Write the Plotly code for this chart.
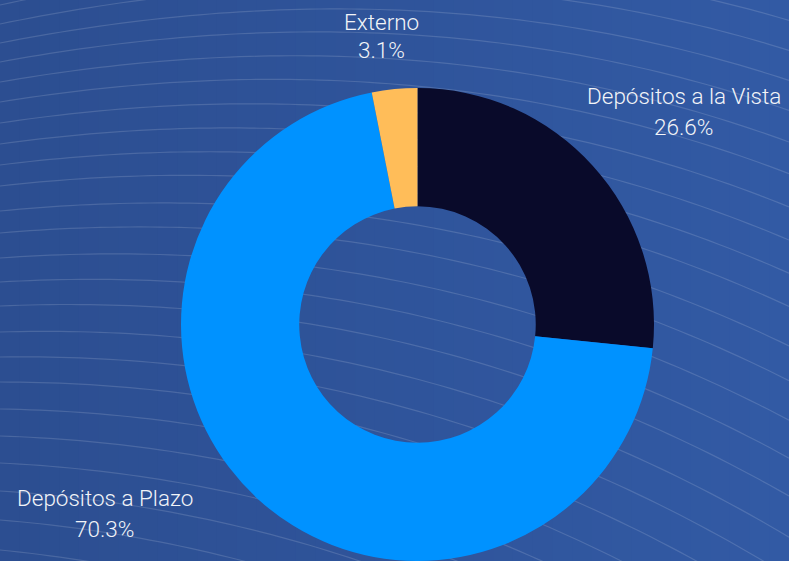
import numpy as np
import plotly.graph_objects as go

# ---- data ----
labels = ["Depósitos a la Vista", "Depósitos a Plazo", "Externo"]
values = [26.6, 70.3, 3.1]
colors = ["#090a2a", "#0092ff", "#ffbd59"]

W, H = 789, 561

def px(x):
    return x / W

def py(y):
    return 1 - y / H

shapes = []

# ---- background: horizontal gradient built from thin strips ----
c0 = np.array([44, 78, 145])
c1 = np.array([50, 90, 164])
n_strips = 40
for i in range(n_strips):
    t = i / (n_strips - 1)
    c = (c0 + (c1 - c0) * t).round().astype(int)
    shapes.append(dict(type="rect", xref="paper", yref="paper", layer="below",
                       x0=i / n_strips, x1=(i + 1) / n_strips + 0.002, y0=0, y1=1,
                       fillcolor=f"rgb({c[0]},{c[1]},{c[2]})", line=dict(width=0)))

# ---- background: faint decorative flowing lines ----
line_starts = [5, 24, 43, 62, 82, 102, 123, 144, 165, 186, 211, 233, 258, 282,
               306, 332, 357, 382, 409, 436, 463, 491, 520, 550]
g, k, off = 0.00058, 1.1034, 1521.7
xs = np.linspace(0, W, 80)
for y0 in line_starts:
    ys = (y0 + off) * np.exp(g * xs) - off - k * xs
    path = "M " + " L ".join(f"{px(x):.5f},{py(y):.5f}" for x, y in zip(xs, ys))
    shapes.append(dict(type="path", xref="paper", yref="paper", layer="below",
                       path=path, line=dict(color="rgba(255,255,255,0.14)", width=1.2)))

fig = go.Figure(go.Pie(
    labels=labels, values=values, sort=False, direction="clockwise", rotation=0,
    hole=0.5, marker=dict(colors=colors, line=dict(width=0)),
    textinfo="none", hoverinfo="label+percent", showlegend=False,
    domain=dict(x=[0.2294, 0.8289], y=[0, 1 - 88 / H]),
))

# ---- labels ----
total = sum(values)
pcts = [f"{v / total * 100:.1f}%" for v in values]
label_pos = [  # (x center, name y center, pct y center) in pixels
    (683.5, 96.3, 127.3),
    (104.5, 498.3, 529.0),
    (381.0, 22.3, 49.6),
]
font = dict(family="Roboto", size=22.5, color="#f2f4f8", weight=300)
annotations = []
for name, pct, (xc, yn, yp) in zip(labels, pcts, label_pos):
    annotations.append(dict(text=name, x=px(xc), y=py(yn), xref="paper", yref="paper",
                            xanchor="center", yanchor="middle", showarrow=False, font=font))
    annotations.append(dict(text=pct, x=px(xc), y=py(yp), xref="paper", yref="paper",
                            xanchor="center", yanchor="middle", showarrow=False, font=font))

fig.update_layout(
    width=W, height=H,
    margin=dict(l=0, r=0, t=0, b=0),
    paper_bgcolor="#2f54a0", plot_bgcolor="rgba(0,0,0,0)",
    shapes=shapes, annotations=annotations,
)

fig.write_html(
    "out.html",
    config={"displayModeBar": False},
    post_script="document.body.style.margin='0';document.body.style.overflow='hidden';",
)
